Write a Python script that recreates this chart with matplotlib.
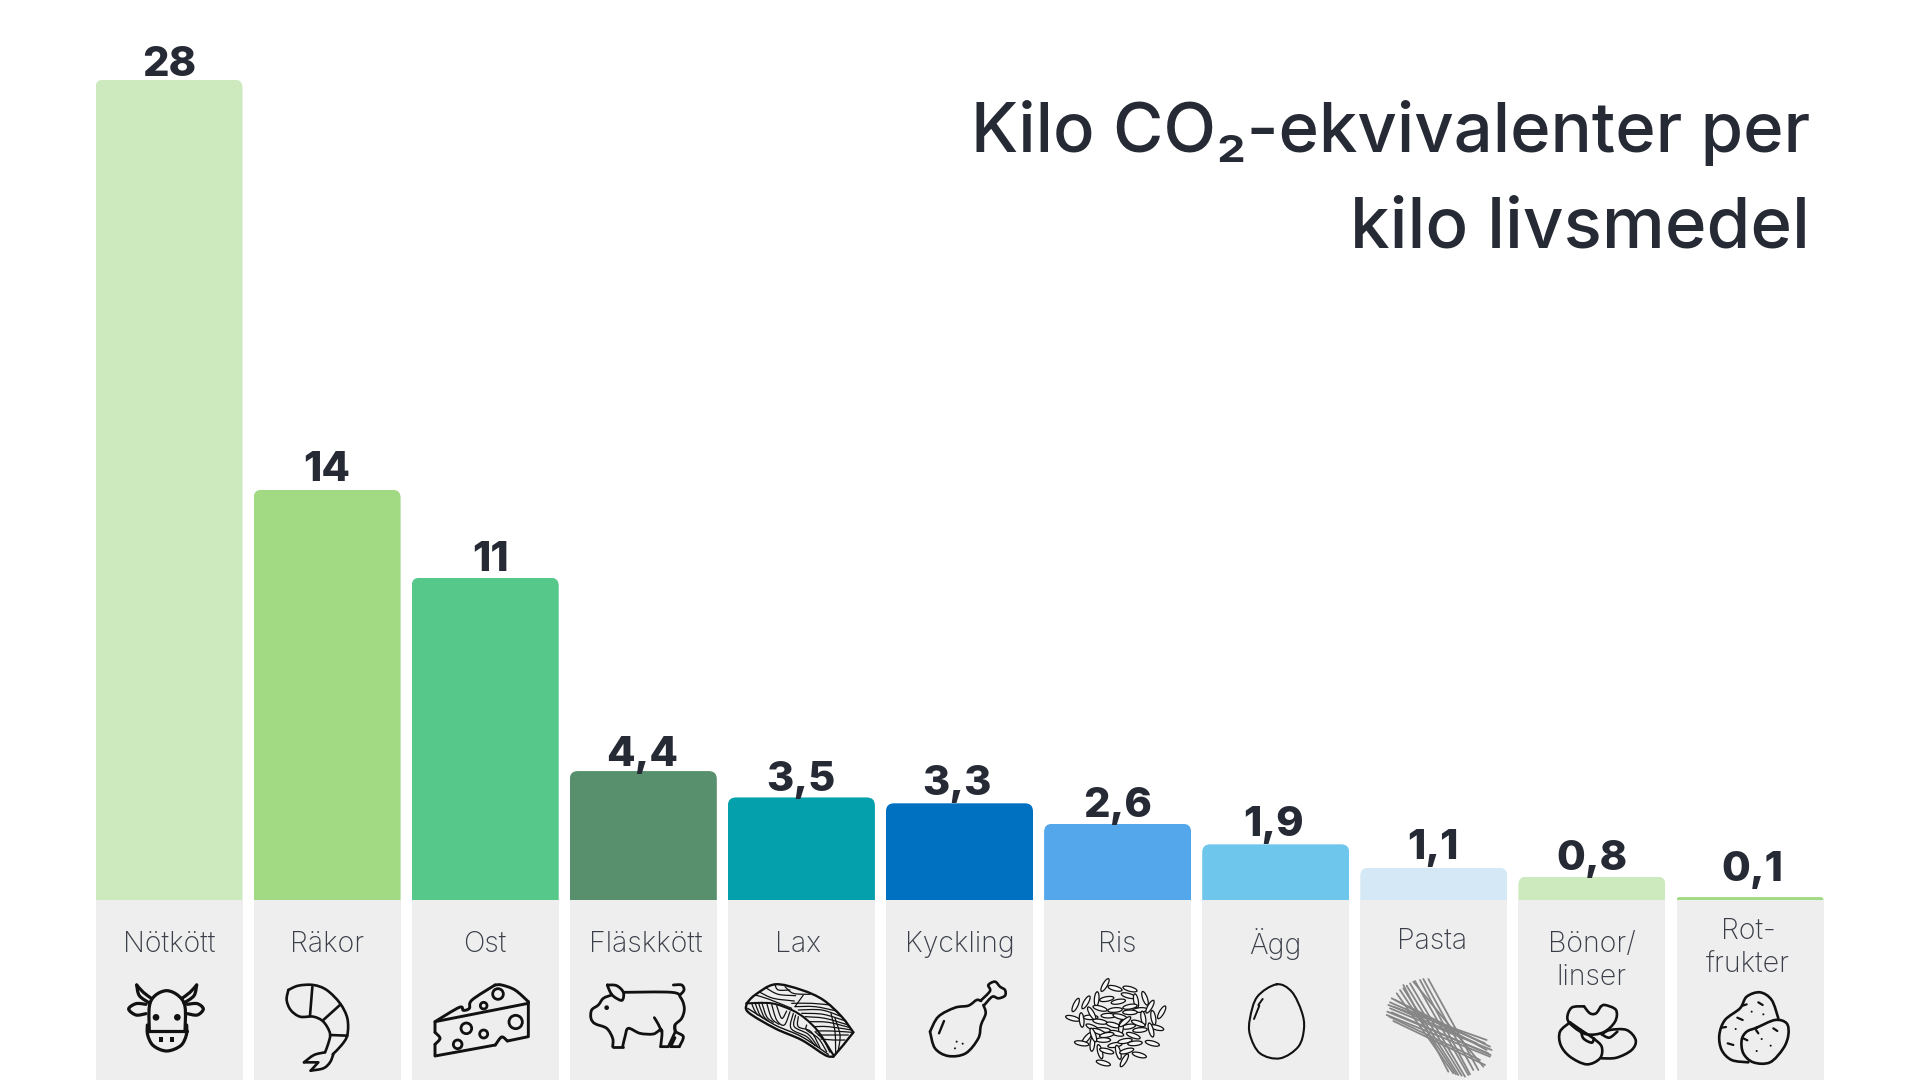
import numpy as np
import matplotlib
matplotlib.use('Agg')
import matplotlib.pyplot as plt
from matplotlib.path import Path
from matplotlib.patches import PathPatch, Ellipse, Circle, Rectangle

# Data
categories = ['Nötkött', 'Räkor', 'Ost', 'Fläskkött', 'Lax', 'Kyckling', 'Ris', 'Ägg', 'Pasta',
              'Bönor/\nlinser', 'Rot-\nfrukter']
values = [28, 14, 11, 4.4, 3.5, 3.3, 2.6, 1.9, 1.1, 0.8, 0.1]
bar_colors = ['#cde9be', '#a2da84', '#56c88a', '#588f6c', '#04a0ac', '#0070c0',
              '#53a7ea', '#6fc6ec', '#d4e9f5', '#cde9be', '#a2da84']
title_lines = ['Kilo CO₂-ekvivalenter per', 'kilo livsmedel']

# Layout, in pixels of the 1920x1080 figure
X0, PITCH, BASE_Y, PX_PER_UNIT = 169.0, 158.1, 900.0, 29.3
BAR_W = 147.0
label_y = [944, 944, 944, 944, 944, 944, 944, 944, 941, 961, 948]
label_dx = [0, 0, 0, 3, -3, 0, 0, 0, -2, 0, -2]
value_dx = [0, 0, 5, -1, -1, -2, 0, -2, -1, 0, 2]
value_dy = [-2.5, 2.5, 0, -1, 0, 2.5, 1, 2.5, 2.5, 0, 10]

DARK = '#262a35'

fig = plt.figure(figsize=(19.2, 10.8), dpi=100, facecolor='white')

# bars: index on x, value on y
ax = fig.add_axes([0, 0, 1, 1])
ax.set_xlim((0 - X0) / PITCH, (1920 - X0) / PITCH)
ax.set_ylim((BASE_Y - 1080) / PX_PER_UNIT, BASE_Y / PX_PER_UNIT)
ax.axis('off')

x = np.arange(len(values))
w = BAR_W / PITCH
ax.bar(x, -(1080 - BASE_Y) / PX_PER_UNIT, width=w, color='#eeeeee', zorder=1)
bars = ax.bar(x, values, width=w, color=bar_colors, zorder=2)


def rounded_top(xc, h, r_px=8.0):
    # outline with rounded upper corners, used as clip of the bar
    rx = min(r_px, h * PX_PER_UNIT) / PITCH
    ry = min(r_px / PX_PER_UNIT, h)
    l, r = xc - w / 2, xc + w / 2
    verts = [(l, 0), (l, h - ry), (l, h), (l + rx, h), (r - rx, h), (r, h), (r, h - ry), (r, 0), (l, 0)]
    codes = [Path.MOVETO, Path.LINETO, Path.CURVE3, Path.CURVE3, Path.LINETO,
             Path.CURVE3, Path.CURVE3, Path.LINETO, Path.CLOSEPOLY]
    return Path(verts, codes)


for b, xc, v in zip(bars, x, values):
    b.set_clip_path(rounded_top(xc, v), ax.transData)

for xc, v, dx, dy in zip(x, values, value_dx, value_dy):
    txt = f'{v:g}'.replace('.', ',')
    ax.annotate(txt, (xc, v), xytext=(dx * 0.72, (4.5 / 0.72 + dy) * 0.72), textcoords='offset points',
                ha='center', va='baseline', fontsize=30, fontweight=800, family='Inter', color=DARK, zorder=5)

# second axes in plain pixels for title, labels and icons
px = fig.add_axes([0, 0, 1, 1])
px.set_xlim(0, 1920)
px.set_ylim(1080, 0)
px.axis('off')
px.patch.set_alpha(0)

px.text(1810, 152, title_lines[0], ha='right', va='baseline', fontsize=49.5, family=['Inter', 'DejaVu Sans'],
        fontweight='medium', color=DARK)
px.text(1810, 247, title_lines[1], ha='right', va='baseline', fontsize=51, family='Inter',
        fontweight='medium', color=DARK)

for i, name in enumerate(categories):
    px.text(X0 + PITCH * i + label_dx[i], label_y[i], name, ha='center', va='center', fontsize=20.5,
            family='Inter', fontweight='light', color='#3a3e48', linespacing=1.3)


def smooth(pts, closed=False):
    # Catmull-Rom through the points, as bezier segments
    p = np.array(pts, dtype=float)
    n = len(p)
    verts = [p[0]]
    codes = [Path.MOVETO]
    segs = n if closed else n - 1
    for i in range(segs):
        if closed:
            p0, p1, p2, p3 = p[(i - 1) % n], p[i], p[(i + 1) % n], p[(i + 2) % n]
        else:
            p0, p1, p2, p3 = p[max(i - 1, 0)], p[i], p[i + 1], p[min(i + 2, n - 1)]
        verts += [p1 + (p2 - p0) / 6, p2 - (p3 - p1) / 6, p2]
        codes += [Path.CURVE4] * 3
    return Path(verts, codes)


def icon(ox, oy):
    # zoomed-crop coordinates (3x) to figure pixels
    def conv(pts):
        return [(ox + a / 3, oy + b / 3) for a, b in pts]
    return conv


def stroke(conv, pts, lw=1.7, closed=False, color='#111111', curved=True):
    q = conv(pts)
    path = smooth(q, closed) if curved else Path(q)
    px.add_patch(PathPatch(path, fc='none', ec=color, lw=lw, capstyle='round', joinstyle='round', zorder=6))


def dot(conv, a, b, r):
    c = conv([(a, b)])[0]
    px.add_patch(Circle(c, r / 3, fc='#111111', ec='none', zorder=6))


def ring(conv, a, b, r, lw=1.7):
    c = conv([(a, b)])[0]
    px.add_patch(Circle(c, r / 3, fc='none', ec='#111111', lw=lw, zorder=6))


# cow
c = icon(110, 975)
stroke(c, [(118, 170), (118, 95), (135, 62), (170, 47), (205, 62), (225, 95), (225, 170)], lw=2.3)
stroke(c, [(112, 168), (230, 168)], lw=2.3, curved=False)
stroke(c, [(112, 150), (113, 180), (130, 212), (170, 228), (212, 212), (229, 180), (230, 150)], lw=2.3)
stroke(c, [(124, 70), (100, 52), (80, 30)], lw=2.3)
stroke(c, [(80, 30), (88, 62), (118, 84)], lw=2.3)
stroke(c, [(216, 70), (240, 52), (260, 30)], lw=2.3)
stroke(c, [(260, 30), (252, 62), (222, 84)], lw=2.3)
stroke(c, [(108, 88), (78, 86), (56, 102), (78, 120), (108, 116)], lw=2.3)
stroke(c, [(232, 88), (262, 86), (280, 102), (262, 120), (232, 116)], lw=2.3)
dot(c, 138, 127, 10)
dot(c, 202, 127, 10)
for nx in (147, 179):
    q = c([(nx, 185)])[0]
    px.add_patch(Rectangle(q, 4, 5.5, fc='#111111', ec='none', zorder=6))

# shrimp
stroke(c, [(535, 45), (565, 32), (610, 30), (650, 45), (690, 85), (712, 130), (712, 180), (695, 210), (668, 238)], lw=1.9)
stroke(c, [(535, 45), (530, 75), (542, 105), (570, 125), (610, 125), (640, 140), (660, 175), (655, 205), (645, 232)], lw=1.9)
stroke(c, [(645, 232), (612, 240), (582, 262)], lw=1.9)
stroke(c, [(582, 262), (625, 262), (602, 287)], lw=1.9, curved=False)
stroke(c, [(602, 287), (640, 280), (660, 262), (670, 238)], lw=1.9)
stroke(c, [(607, 36), (600, 122)], lw=1.9, curved=False)
stroke(c, [(692, 88), (640, 135)], lw=1.9, curved=False)
stroke(c, [(660, 180), (712, 182)], lw=1.9, curved=False)

# cheese
c = icon(420, 975)
stroke(c, [(45, 140), (118, 97), (130, 106), (148, 100), (156, 75), (225, 30)], lw=2.1)
stroke(c, [(225, 30), (245, 30), (285, 45), (325, 80)], lw=2.1)
stroke(c, [(325, 80), (325, 185), (262, 198)], lw=2.1, curved=False)
stroke(c, [(262, 198), (245, 186), (226, 210)], lw=2.1)
stroke(c, [(226, 210), (45, 243), (45, 208)], lw=2.1, curved=False)
stroke(c, [(45, 208), (60, 190), (45, 172)], lw=2.1)
stroke(c, [(45, 172), (45, 140), (325, 85)], lw=2.1, curved=False)
for a, b, r in [(234, 57, 16), (191, 92, 10), (287, 141, 20), (139, 160, 16), (191, 177, 12), (113, 208, 13)]:
    ring(c, a, b, r, lw=2.0)

# pig
stroke(c, [(562, 30), (590, 32), (610, 52), (606, 76), (582, 65), (570, 50), (562, 30)], lw=2.0)
stroke(c, [(575, 60), (550, 70), (535, 90), (515, 105), (513, 130), (525, 146), (560, 160), (578, 190), (578, 215)], lw=2.0)
stroke(c, [(578, 215), (608, 215)], lw=2.0, curved=False)
stroke(c, [(608, 215), (615, 185), (625, 160), (660, 175), (700, 177), (725, 165), (722, 215)], lw=2.0)
stroke(c, [(722, 215), (745, 215), (765, 172), (765, 150)], lw=2.0, curved=False)
stroke(c, [(610, 52), (755, 52), (782, 68), (793, 100), (785, 130), (765, 150), (768, 170), (790, 185), (778, 215)], lw=2.0)
stroke(c, [(778, 215), (752, 215), (765, 188)], lw=2.0, curved=False)
stroke(c, [(703, 128), (715, 148), (725, 170)], lw=2.0)
stroke(c, [(760, 30), (785, 30), (792, 45), (780, 60)], lw=2.0)
dot(c, 560, 98, 7)

# salmon
c = icon(735, 975)
stroke(c, [(35, 85), (60, 60), (120, 28), (200, 45), (265, 75), (320, 125), (355, 172)], lw=1.7)
stroke(c, [(355, 172), (325, 210), (295, 245)], lw=1.7, curved=False)
stroke(c, [(295, 245), (270, 240), (200, 195), (120, 160), (40, 112), (35, 85)], lw=1.7)
stroke(c, [(35, 85), (110, 85), (170, 105), (210, 130), (250, 170), (295, 240)], lw=1.5)
stroke(c, [(38, 100), (120, 150), (200, 185), (280, 238)], lw=1.0)
salmon_grain = [
    [(60, 60), (100, 72), (170, 100)], [(95, 40), (130, 58), (182, 62)], [(120, 30), (130, 45), (165, 45)],
    [(75, 52), (115, 70), (178, 78)], [(150, 35), (175, 55), (225, 58)],
    [(205, 60), (180, 95)], [(210, 125), (270, 130), (340, 150)], [(190, 105), (260, 105), (320, 125)],
    [(180, 95), (240, 95), (305, 108)], [(200, 115), (265, 118), (332, 138)], [(222, 140), (280, 142), (346, 158)],
    [(170, 85), (230, 85), (285, 90)], [(235, 155), (280, 155), (350, 165)], [(250, 180), (290, 180), (340, 180)],
    [(243, 168), (290, 168), (352, 172)], [(258, 192), (295, 195), (330, 195)],
    [(50, 85), (58, 105), (68, 120)], [(60, 82), (72, 115), (85, 130)], [(70, 82), (85, 122), (100, 138)],
    [(80, 82), (95, 125), (115, 142)], [(95, 84), (110, 130), (132, 148)],
    [(110, 88), (125, 135), (148, 150), (165, 110)], [(125, 92), (140, 130), (155, 108)],
    [(175, 115), (168, 160), (215, 185), (240, 212)], [(182, 120), (178, 155), (220, 178), (248, 215)],
    [(190, 125), (190, 155), (228, 170), (255, 218)], [(215, 150), (215, 165), (250, 190), (275, 230)],
    [(240, 170), (265, 195), (285, 232)], [(300, 130), (315, 180), (310, 225)], [(288, 115), (300, 170), (302, 235)],
]
for g in salmon_grain:
    stroke(c, g, lw=0.9)

# chicken leg
stroke(c, [(585, 170), (610, 125), (660, 98), (700, 92), (725, 75), (738, 78)], lw=1.9)
stroke(c, [(745, 90), (752, 115), (738, 150), (730, 190), (692, 235), (640, 243), (600, 220), (585, 170)], lw=1.9)
stroke(c, [(738, 76), (765, 48), (760, 30), (780, 20), (795, 35), (810, 45), (810, 62), (790, 70), (772, 65), (748, 90)], lw=1.9)
stroke(c, [(627, 138), (612, 175)], lw=1.7, curved=False)
for a, b in [(665, 200), (683, 206), (660, 220)]:
    dot(c, a, b, 3)

# rice
c = icon(1050, 975)
rice_grains = [(165, 30, -60), (195, 40, 15), (240, 42, 15), (235, 62, 15), (77, 90, -65), (108, 82, -60),
               (140, 72, -85), (170, 72, -10), (205, 80, -10), (258, 78, 80), (285, 70, 70), (150, 100, 15),
               (240, 95, -10), (195, 105, -5), (270, 105, -5), (300, 95, -60), (335, 112, -60), (68, 130, 15),
               (95, 135, 85), (122, 127, 0), (125, 115, 60), (175, 122, 0), (210, 125, 15), (240, 112, 0),
               (310, 128, 80), (280, 130, 80), (150, 140, 10), (190, 150, 15), (235, 155, -10), (265, 145, 20),
               (320, 158, 15), (303, 165, 75), (270, 165, -5), (128, 158, 25), (213, 158, -85), (160, 165, 5),
               (145, 170, 20), (200, 175, 15), (170, 180, -10), (250, 182, 20), (110, 190, -50), (95, 205, 10),
               (127, 207, -85), (160, 195, 0), (195, 210, -10), (225, 198, -10), (255, 205, -5), (307, 205, 15),
               (150, 230, 75), (170, 228, 15), (205, 232, 75), (230, 228, -15), (268, 240, 15), (160, 264, 15),
               (223, 256, -60), (130, 180, 70), (225, 140, -40)]
for a, b, ang in rice_grains:
    px.add_patch(Ellipse(c([(a, b)])[0], 14.5, 4.6, angle=ang, fc='#f6f6f6', ec='#111111', lw=0.9, zorder=6))

# egg
stroke(c, [(680, 28), (725, 50), (755, 110), (762, 160), (745, 215), (690, 250), (630, 235), (600, 180), (600, 130), (622, 65)],
       lw=1.5, closed=True)
stroke(c, [(638, 72), (625, 90)], lw=1.4, curved=False)
stroke(c, [(628, 92), (612, 132)], lw=1.4, curved=False)

# pasta
c = icon(1370, 975)
pasta_lines = [
    ((80, 55), (250, 295)), ((90, 45), (258, 298)), ((100, 40), (265, 300)), ((110, 32), (275, 302)),
    ((120, 25), (285, 305)), ((135, 18), (295, 300)), ((150, 15), (300, 298)), ((160, 12), (310, 285)),
    ((175, 12), (325, 285)), ((130, 20), (340, 275)), ((100, 30), (235, 290)),
    ((55, 90), (350, 195)), ((65, 70), (360, 215)), ((50, 120), (360, 245)), ((70, 138), (345, 270)),
    ((60, 100), (365, 225)), ((52, 110), (355, 235)), ((60, 82), (345, 205)), ((58, 125), (330, 255)),
    ((75, 75), (350, 225)), ((65, 112), (362, 240)), ((70, 95), (320, 205)),
]
for a, b in pasta_lines:
    stroke(c, [a, b], lw=1.3, color='#868686', curved=False)

# beans
stroke(c, [(642, 94), (605, 98), (592, 130), (610, 155), (650, 178), (700, 172), (735, 140), (738, 105), (705, 90), (692, 95)], lw=1.9)
stroke(c, [(642, 94), (660, 115), (678, 115), (692, 95)], lw=1.9)
stroke(c, [(600, 142), (570, 170), (572, 210), (600, 245), (650, 268), (690, 250), (695, 215), (670, 190), (640, 170)], lw=1.9)
stroke(c, [(600, 142), (640, 170)], lw=1.9, curved=False)
stroke(c, [(633, 165), (640, 190), (665, 203), (672, 190)], lw=1.9)
stroke(c, [(695, 178), (720, 165), (770, 165), (797, 195), (785, 225), (740, 248), (695, 250)], lw=1.9)
stroke(c, [(695, 178), (718, 188), (742, 170)], lw=1.9)

# potato
stroke(c, [(1225, 130), (1205, 75), (1170, 52), (1130, 65), (1110, 100), (1065, 135), (1048, 180), (1055, 225), (1085, 255), (1135, 262)], lw=1.9)
stroke(c, [(1160, 158), (1215, 135), (1250, 145), (1255, 180), (1240, 220), (1200, 262), (1150, 262), (1120, 235), (1115, 195), (1130, 170)],
       lw=1.9, closed=True)
for seg in [((1118, 92), (1130, 88)), ((1165, 82), (1178, 90)), ((1102, 128), (1118, 135)), ((1055, 158), (1068, 156)),
            ((1073, 205), (1090, 210)), ((1158, 165), (1165, 175)), ((1120, 190), (1132, 196)), ((1210, 160), (1222, 168))]:
    stroke(c, list(seg), lw=1.6, curved=False)
for a, b in [(1145, 110), (1180, 118), (1097, 162), (1175, 192), (1202, 212), (1160, 228)]:
    dot(c, a, b, 3)

fig.savefig('out.png', dpi=100, facecolor='white')
